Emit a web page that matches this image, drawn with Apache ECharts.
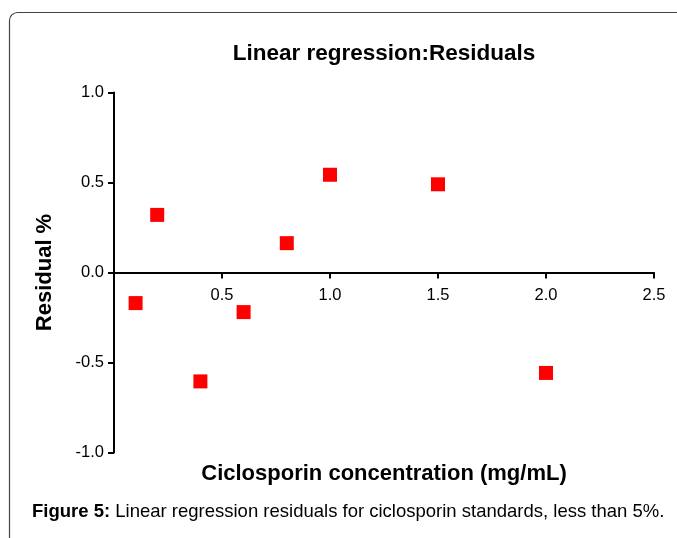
<!DOCTYPE html>
<html><head><meta charset="utf-8">
<script src="https://cdn.jsdelivr.net/npm/echarts@6/dist/echarts.min.js"></script>
<style>html,body{margin:0;padding:0;background:#fff}#c{width:677px;height:538px}</style>
</head><body><div id="c"></div>
<script>
const concentrations = [0.1, 0.2, 0.4, 0.6, 0.8, 1.0, 1.5, 2.0];
const residuals = [-0.17, 0.32, -0.605, -0.22, 0.163, 0.543, 0.49, -0.558];
const xTicks = [0, 0.5, 1.0, 1.5, 2.0, 2.5];
const yTicks = [-1.0, -0.5, 0.0, 0.5, 1.0];
const titleText = 'Linear regression:Residuals';
const xName = 'Ciclosporin concentration (mg/mL)';
const yName = 'Residual %';

const chart = echarts.init(document.getElementById('c'), null, {renderer: 'canvas'});
const FONT = 'Liberation Sans, Arial, sans-serif';
chart.setOption({
  animation: false,
  backgroundColor: '#fff',
  title: {
    text: titleText, left: 379, top: 37, textAlign: 'center',
    textStyle: {fontFamily: FONT, fontSize: 22.5, fontWeight: 'bold', color: '#000'}
  },
  grid: {left: 114, right: 23, top: 92.5, bottom: 85.5, containLabel: false},
  xAxis: {
    type: 'value', min: 0, max: 2.5, interval: 0.5,
    offset: -180,
    name: xName, nameLocation: 'middle', nameGap: 190,
    nameTextStyle: {fontFamily: FONT, fontSize: 22, fontWeight: 'bold', color: '#000'},
    axisLine: {onZero: false, lineStyle: {color: '#000', width: 2}},
    axisTick: {show: true, length: 6, lineStyle: {color: '#000', width: 2}},
    axisLabel: {fontFamily: FONT, fontSize: 16.5, color: '#000', margin: 14,
      formatter: v => v === 0 ? '' : v.toFixed(1)},
    splitLine: {show: false}
  },
  yAxis: {
    type: 'value', min: -1, max: 1, interval: 0.5,
    name: yName, nameLocation: 'middle', nameGap: 58, nameRotate: 90,
    nameTextStyle: {fontFamily: FONT, fontSize: 22, fontWeight: 'bold', color: '#000'},
    axisLine: {lineStyle: {color: '#000', width: 2}},
    axisTick: {show: true, length: 6, lineStyle: {color: '#000', width: 2}},
    axisLabel: {fontFamily: FONT, fontSize: 16.5, color: '#000', margin: 10,
      formatter: v => v.toFixed(1)},
    splitLine: {show: false}
  },
  series: [{
    type: 'scatter', symbol: 'rect', symbolSize: 14,
    itemStyle: {color: '#ff0000', opacity: 1},
    data: concentrations.map((c, i) => [c, residuals[i]])
  }],
  graphic: [
    {type: 'rect', shape: {x: 9.5, y: 12.5, width: 700, height: 600, r: 8},
     style: {fill: 'none', stroke: '#444', lineWidth: 1.2}, silent: true, z: 100},
    {type: 'text', left: 32, top: 502, z: 100,
     style: {text: '{b|Figure 5:} Linear regression residuals for ciclosporin standards, less than 5%.',
       rich: {b: {fontWeight: 'bold', fontSize: 18.5, fontFamily: FONT, fill: '#000'}},
       fontFamily: FONT, fontSize: 18.5, fill: '#000'}}
  ]
});
</script></body></html>
